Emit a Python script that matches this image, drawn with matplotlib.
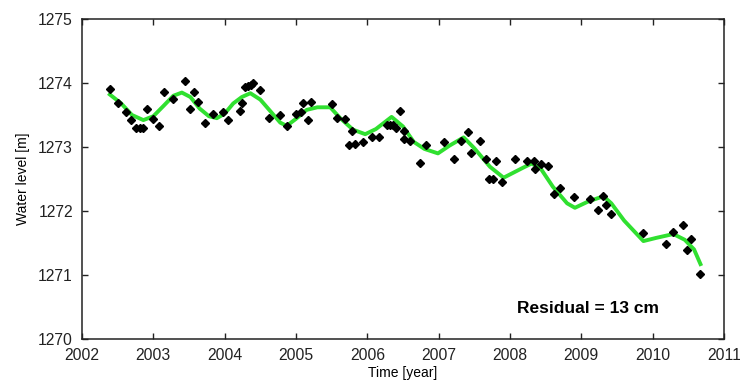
import matplotlib
matplotlib.use('Agg')
import matplotlib.pyplot as plt

plt.rcParams['font.family'] = ['Liberation Sans', 'DejaVu Sans']

# Measured water levels (black diamonds)
obs_year = [2002.39, 2002.51, 2002.61, 2002.69, 2002.76, 2002.81, 2002.86, 2002.91,
            2003.00, 2003.08, 2003.15, 2003.28, 2003.44, 2003.52, 2003.57, 2003.63,
            2003.73, 2003.83, 2003.97, 2004.04, 2004.22, 2004.24, 2004.29, 2004.33,
            2004.37, 2004.40, 2004.50, 2004.62, 2004.78, 2004.88, 2005.00, 2005.07,
            2005.10, 2005.17, 2005.21, 2005.50, 2005.57, 2005.69, 2005.78, 2005.74,
            2005.83, 2005.94, 2006.06, 2006.17, 2006.27, 2006.32, 2006.36, 2006.40,
            2006.46, 2006.52, 2006.52, 2006.60, 2006.74, 2006.82, 2007.07, 2007.22,
            2007.31, 2007.41, 2007.46, 2007.58, 2007.67, 2007.80, 2007.70, 2007.76,
            2007.89, 2008.07, 2008.24, 2008.33, 2008.35, 2008.44, 2008.53, 2008.61,
            2008.70, 2008.90, 2009.12, 2009.23, 2009.31, 2009.34, 2009.42, 2009.87,
            2010.19, 2010.29, 2010.43, 2010.54, 2010.48, 2010.66]
obs_level = [1273.91, 1273.69, 1273.54, 1273.42, 1273.30, 1273.30, 1273.30, 1273.59,
             1273.43, 1273.33, 1273.86, 1273.75, 1274.03, 1273.60, 1273.86, 1273.71,
             1273.38, 1273.52, 1273.54, 1273.42, 1273.56, 1273.69, 1273.93, 1273.95,
             1273.97, 1274.00, 1273.89, 1273.45, 1273.50, 1273.33, 1273.52, 1273.55,
             1273.68, 1273.42, 1273.71, 1273.67, 1273.45, 1273.43, 1273.25, 1273.03,
             1273.05, 1273.08, 1273.16, 1273.15, 1273.34, 1273.35, 1273.34, 1273.30,
             1273.56, 1273.25, 1273.12, 1273.09, 1272.75, 1273.03, 1273.08, 1272.82,
             1273.09, 1273.24, 1272.90, 1273.09, 1272.81, 1272.78, 1272.50, 1272.50,
             1272.46, 1272.82, 1272.78, 1272.78, 1272.65, 1272.74, 1272.71, 1272.26,
             1272.36, 1272.22, 1272.18, 1272.01, 1272.23, 1272.10, 1271.96, 1271.66,
             1271.48, 1271.67, 1271.78, 1271.56, 1271.39, 1271.01]

# Fitted curve (green)
fit_year = [2002.39, 2002.55, 2002.70, 2002.86, 2003.00, 2003.15, 2003.28, 2003.40,
            2003.52, 2003.65, 2003.78, 2003.89, 2004.00, 2004.12, 2004.24, 2004.36,
            2004.50, 2004.64, 2004.78, 2004.87, 2005.00, 2005.15, 2005.30, 2005.48,
            2005.62, 2005.80, 2005.97, 2006.12, 2006.34, 2006.50, 2006.65, 2006.80,
            2006.99, 2007.15, 2007.35, 2007.50, 2007.72, 2007.91, 2008.05, 2008.19,
            2008.30, 2008.42, 2008.60, 2008.80, 2008.91, 2009.10, 2009.31, 2009.42,
            2009.60, 2009.87, 2010.05, 2010.29, 2010.45, 2010.58, 2010.67]
fit_level = [1273.82, 1273.68, 1273.50, 1273.42, 1273.48, 1273.65, 1273.80, 1273.85,
             1273.78, 1273.60, 1273.48, 1273.45, 1273.52, 1273.68, 1273.78, 1273.84,
             1273.74, 1273.56, 1273.38, 1273.33, 1273.44, 1273.58, 1273.62, 1273.62,
             1273.45, 1273.27, 1273.20, 1273.28, 1273.47, 1273.32, 1273.08, 1272.97,
             1272.90, 1273.02, 1273.15, 1272.98, 1272.69, 1272.52, 1272.60, 1272.68,
             1272.74, 1272.68, 1272.38, 1272.12, 1272.05, 1272.15, 1272.23, 1272.12,
             1271.85, 1271.53, 1271.58, 1271.64, 1271.55, 1271.40, 1271.17]

x_ticks = list(range(2002, 2012))
y_ticks = list(range(1270, 1276))
residual_text = 'Residual = 13 cm'

fig = plt.figure(figsize=(7.4, 3.87), dpi=100, facecolor='white')
ax = fig.add_axes([0.1108, 0.124, 0.8676, 0.827])

ax.plot(fit_year, fit_level, color='#30e030', linewidth=2.8, solid_joinstyle='round', zorder=2)
ax.plot(obs_year, obs_level, linestyle='none', marker='D', markersize=3.7,
        color='black', zorder=3)

ax.set_xlim(2002, 2011)
ax.set_ylim(1270, 1275)
ax.set_xticks(x_ticks)
ax.set_yticks(y_ticks)
ax.tick_params(direction='in', length=4.3, width=1, top=True, right=True,
               labelsize=11.3, pad=6.5, colors='#222222')
for s in ax.spines.values():
    s.set_linewidth(1.1)
    s.set_color('#222222')

ax.set_xlabel('Time [year]', fontsize=10, labelpad=2)
ax.set_ylabel('Water level [m]', fontsize=10, labelpad=6)

ax.text(2008.10, 1270.41, residual_text, fontsize=12.5, fontweight='bold',
        ha='left', va='baseline')

fig.savefig('out.png', dpi=100, facecolor='white')
